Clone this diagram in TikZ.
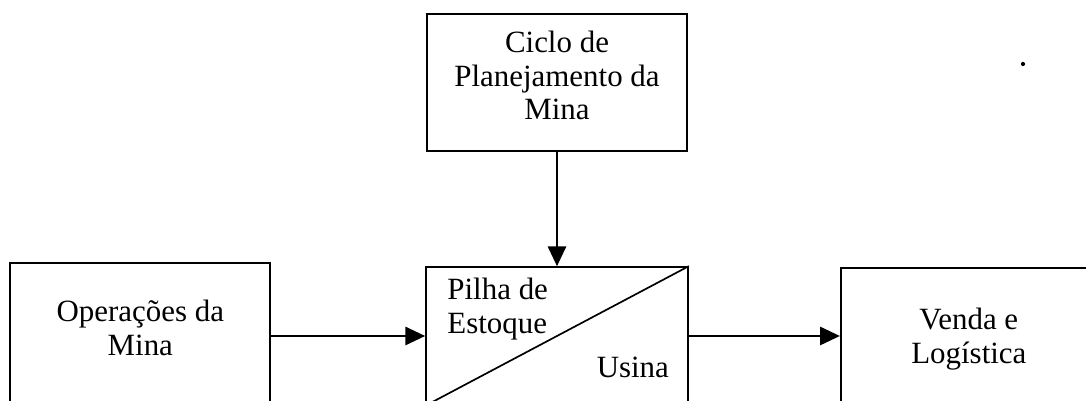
\documentclass[tikz,border=0pt]{standalone}
\usepackage{fontspec}
\setmainfont{Liberation Serif}
\usetikzlibrary{positioning,calc}
\usetikzlibrary{arrows.meta}
\tikzset{
  bx/.style={rectangle, minimum width=6.5cm, minimum height=3.45cm, draw=black, line width=1.2pt},
  lb/.style={align=center, font=\fontsize{22}{24}\selectfont},
  ll/.style={align=left, font=\fontsize{22}{24}\selectfont},
  ar/.style={-{Triangle[length=14pt, width=13pt]}, line width=1.2pt},
  node distance=3.8cm
}
\begin{document}
\begin{tikzpicture}
	\clip (0,0) rectangle (27.15,10.025);
	\fill[white] (0,0) rectangle (27.15,10.025);
	\node[bx, minimum width=6.55cm] (stock) at (13.925,1.625) {};
	\node[bx, minimum height=3.425cm, above=2.85cm of stock] (plan) {};
	\node[bx, minimum height=3.55cm, left=3.85cm of stock, yshift=0.05cm] (ops) {};
	\node[bx, right=3.775cm of stock, yshift=-0.025cm] (sales) {};
	%
	\node[lb] (plantxt) at ($(plan.north)+(0,-1.55)$) {Ciclo de\\Planejamento da\\Mina};
	\node[lb] (opstxt) at ($(ops.north)+(0,-1.65)$) {Operações da\\Mina};
	\node[lb] (salestxt) at ($(sales.north west)+(3.225,-1.8)$) {Venda e\\Logística};
	\node[ll, anchor=north west, inner sep=0pt] (piletxt) at ($(stock.north west)+(0.55,-0.3)$) {Pilha de\\Estoque};
	\node[lb] (planttxt) at ($(stock.north east)+(-1.4,-2.525)$) {Usina};
	\node[circle, fill=black, inner sep=0pt, minimum size=3pt] (speck) at (25.575,8.425) {};
	%
	\draw[line width=1.2pt] (stock.north east) -- (stock.south west);
	\draw[ar] (plan) -- (stock);
	\draw[ar] (ops.east |- stock.west) -- (stock.west);
	\draw[ar] (stock.east) -- (sales.west |- stock.east);
\end{tikzpicture}
\end{document}
